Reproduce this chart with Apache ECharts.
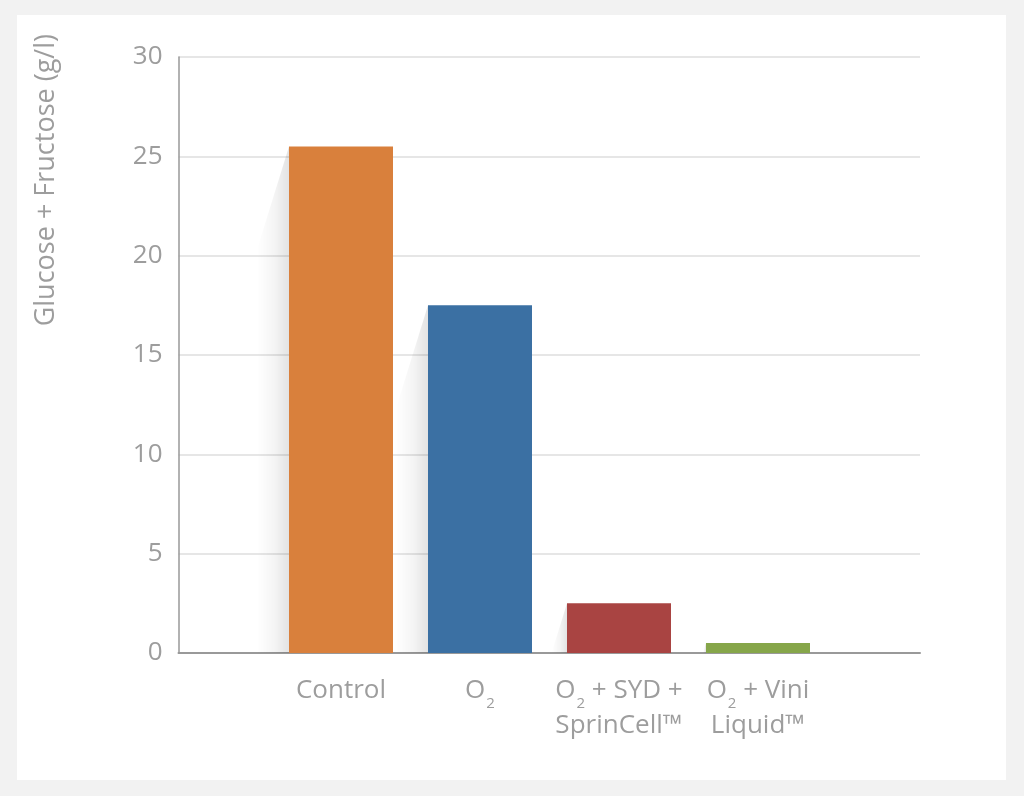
<!DOCTYPE html>
<html>
<head>
<meta charset="utf-8">
<script src="https://cdn.jsdelivr.net/npm/echarts@6/dist/echarts.min.js"></script>
<style>
	html, body { margin: 0; padding: 0; background: #f2f2f2; }
	#chart { position: absolute; left: 17px; top: 15px; width: 989px; height: 765px; background: #fff; }
</style>
</head>
<body>
<div id="chart"></div>
<script>
// values
const categories = [
	'{t|Control}',
	'{t|O}{sub|2}',
	'{t|O}{sub|2}{t| + SYD +}\n{t|SprinCell™}',
	'{t|O}{sub|2}{t| + Vini}\n{t|Liquid™}'
];
const sugar = [25.5, 17.5, 2.5, 0.5];
const yTicks = [0, 30, 5]; // min, max, interval

const COLORS = ['#d9803c', '#3b70a3', '#a94442', '#86a64a'];
const TEXT = '#9d9d9d';
const FONT = 'Open Sans';
const BAR_W = 104;

let chart = echarts.init(document.getElementById('chart'));

// soft wedge shadow on the left side of each bar
function renderShadow(params, api) {
	let top = api.coord([api.value(0), api.value(1)]),
		base = api.coord([api.value(0), 0]),
		left = top[0] - BAR_W / 2,
		h = base[1] - top[1],
		w = Math.min(32, h * 0.31);
	return {
		type: 'polygon',
		shape: { points: [[left, top[1]], [left - w, top[1] + w / 0.31], [left - w, base[1]], [left, base[1]]] },
		style: {
			fill: new echarts.graphic.LinearGradient(1, 0, 0, 0, [
				{ offset: 0, color: 'rgba(0,0,0,0.11)' },
				{ offset: 0.45, color: 'rgba(0,0,0,0.045)' },
				{ offset: 1, color: 'rgba(0,0,0,0)' }
			])
		},
		silent: true
	};
}

chart.setOption({
	animation: false,
	grid: [
		{ left: 161.5, right: 86, top: 42, bottom: 127 },
		{ left: 254.5, width: 556, top: 42, bottom: 127 }
	],
	xAxis: [
		{ type: 'value', gridIndex: 0, min: 0, max: 1,
			axisLine: { show: true, lineStyle: { color: '#999', width: 2 } },
			axisTick: { show: false }, axisLabel: { show: false }, splitLine: { show: false } },
		{ type: 'category', gridIndex: 1, data: categories,
			axisLine: { show: false }, axisTick: { show: false },
			axisLabel: {
				interval: 0, hideOverlap: false,
				margin: 20, color: TEXT, fontFamily: FONT, fontSize: 26, lineHeight: 35,
				rich: {
					t: { color: TEXT, fontFamily: FONT, fontSize: 26, lineHeight: 35 },
					sub: { color: TEXT, fontFamily: FONT, fontSize: 15, lineHeight: 35, padding: [26, 0, 0, 1] }
				}
			} }
	],
	yAxis: [
		{ type: 'value', gridIndex: 0, min: yTicks[0], max: yTicks[1], interval: yTicks[2],
			axisLine: { show: true, lineStyle: { color: '#999', width: 1.5 } },
			axisTick: { show: false },
			axisLabel: { margin: 16, color: TEXT, fontFamily: FONT, fontSize: 26, padding: [0, 0, 11, 0] },
			splitLine: { lineStyle: { color: '#dedede', width: 1.5 } } },
		{ type: 'value', gridIndex: 1, min: yTicks[0], max: yTicks[1], interval: yTicks[2], show: false }
	],
	graphic: [{
		type: 'text', x: 29, y: 34 - 15, rotation: Math.PI / 2,
		style: {
			text: 'Glucose + Fructose (g/l)', fill: TEXT, font: '27px "Open Sans"',
			align: 'right', verticalAlign: 'middle'
		}
	}],
	series: [
		{ type: 'custom', xAxisIndex: 1, yAxisIndex: 1, z: 1,
			data: sugar.map((v, i) => [i, v]), renderItem: renderShadow },
		{ type: 'bar', xAxisIndex: 1, yAxisIndex: 1, barWidth: BAR_W, z: 2,
			data: sugar.map((v, i) => ({ value: v, itemStyle: { color: COLORS[i] } })) }
	]
});
</script>
</body>
</html>
